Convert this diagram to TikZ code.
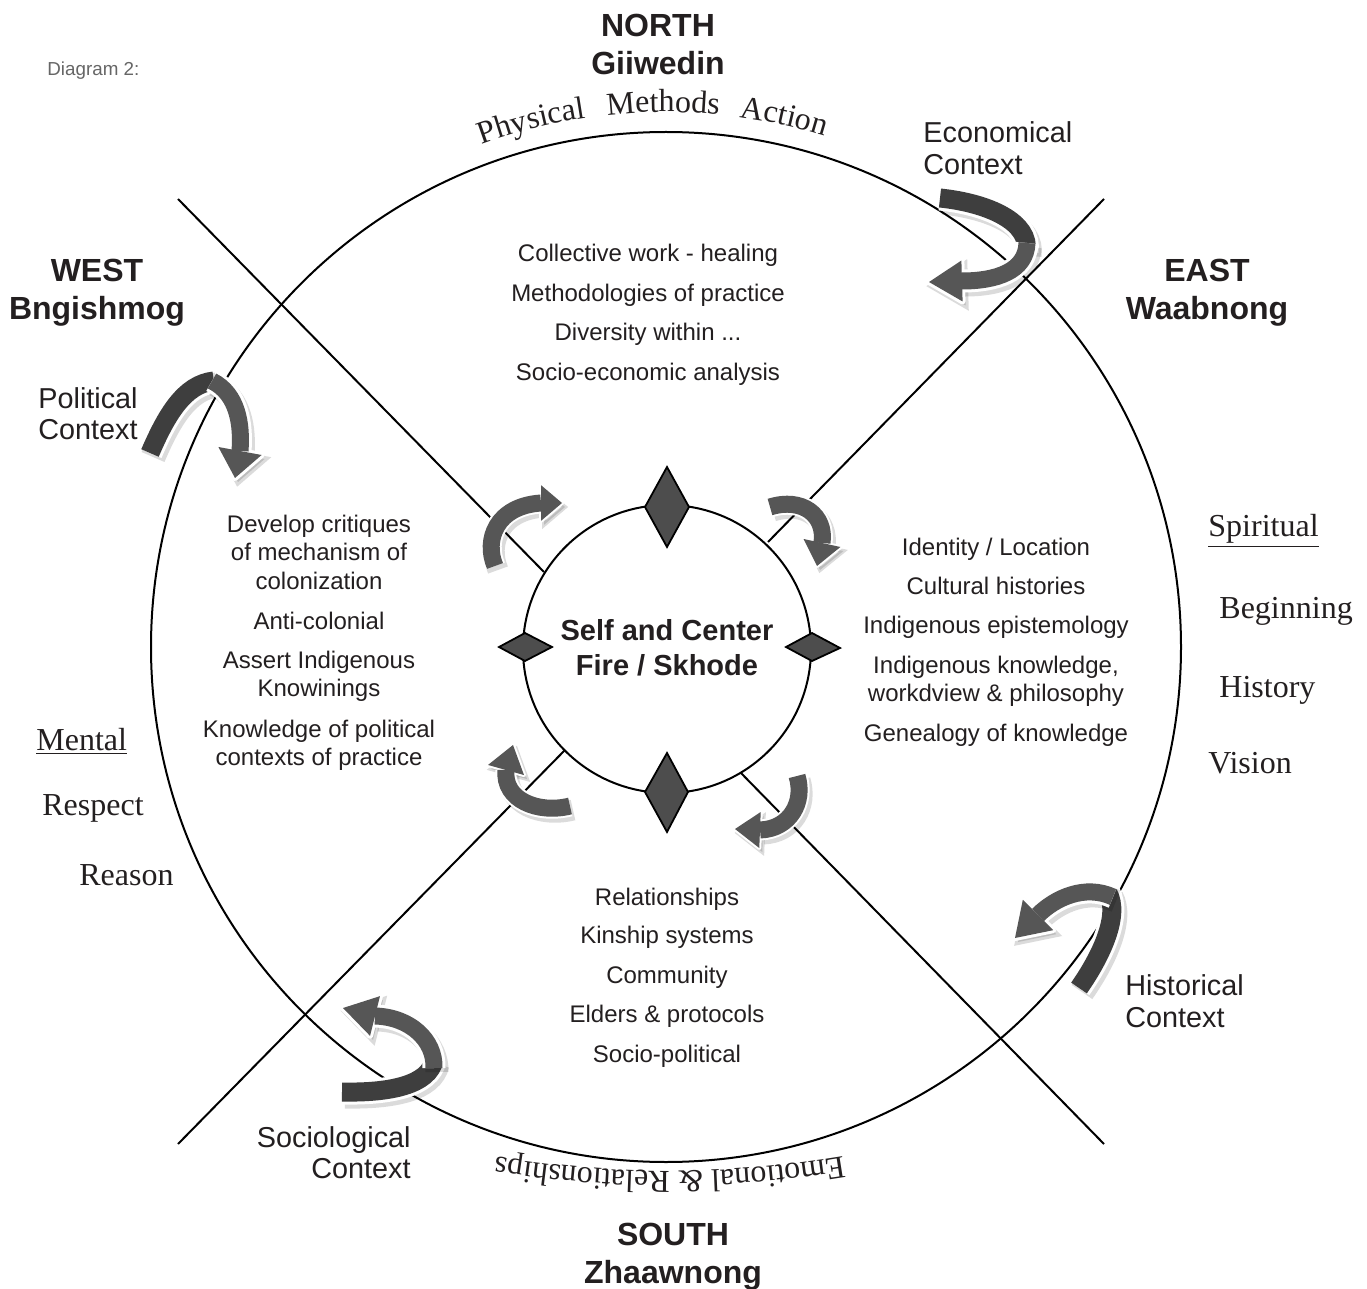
\documentclass[tikz,border=0pt]{standalone}
\usepackage{fontspec}
\setmainfont{Liberation Sans}
\newfontfamily\serifRM{Liberation Serif}
\usetikzlibrary{calc}
\definecolor{arrback}{HTML}{3E3E3E}
\definecolor{arrfront}{HTML}{565656}
\definecolor{diafill}{HTML}{4D4D4D}
\definecolor{txt}{HTML}{231F20}
\definecolor{capgray}{HTML}{666666}
\newcommand\arcfont{\serifRM\fontsize{16}{16}\selectfont}
% back part of a ribbon arrow: colour, width, outline width, path
\newcommand\backpart[4]{%
  \draw[shadowpen, line width=#3] #4;
  \draw[white, line width=#3] #4;
  \draw[#1, line width=#2] #4;}
% front part with head: colour, width, outline width, head outline, path, base, tip, factor
\newcommand\frontpart[8]{%
  \draw[shadowpen, line width=#3] #5;
  \filldraw[shadowfill, line width=#4] (#7) -- ($(#6)!#8!90:(#7)$) -- ($(#6)!#8!-90:(#7)$) -- cycle;
  \draw[white, line width=#3] #5;
  \filldraw[white, line width=#4, line join=round] (#7) -- ($(#6)!#8!90:(#7)$) -- ($(#6)!#8!-90:(#7)$) -- cycle;
  \draw[#1, line width=#2] #5;
  \fill[#1] (#7) -- ($(#6)!#8!90:(#7)$) -- ($(#6)!#8!-90:(#7)$) -- cycle;}
% text set letter by letter along a circle, read clockwise
% #1 centre, #2 radius (pt), #3 centre angle, #4 list of char/width (1/1000 em, 16pt font)
\newcommand\arctext[4]{%
  \gdef\arcsum{0}%
  \foreach \c/\w in {#4} {\pgfmathsetmacro\arctmp{\arcsum+\w}\xdef\arcsum{\arctmp}}%
  \pgfmathsetmacro\arctmp{#3 + 0.5*(\arcsum*0.016/#2)*57.29578}\xdef\arccur{\arctmp}%
  \foreach \c/\w in {#4} {%
    \pgfmathsetmacro\arcmid{\arccur - 0.5*(\w*0.016/#2)*57.29578}%
    \node[inner sep=0pt, anchor=base, rotate=\arcmid-90, text=txt, font=\arcfont] at ($(#1)+(\arcmid:#2pt)$) {\c};
    \pgfmathsetmacro\arctmp{\arccur - (\w*0.016/#2)*57.29578}\xdef\arccur{\arctmp}}%
}
\begin{document}
\begin{tikzpicture}[x=0.5pt,y=-0.5pt,
 body/.style={font=\fontsize{12}{14}\selectfont, text=txt, inner sep=0pt, anchor=base},
 heading/.style={font=\bfseries\fontsize{16}{19}\selectfont, text=txt, inner sep=0pt, anchor=base},
 ctx/.style={font=\fontsize{14.4}{16}\selectfont, text=txt, inner sep=0pt},
 srf/.style={font=\serifRM\fontsize{16}{18}\selectfont, text=txt, inner sep=0pt, anchor=base west},
 ringline/.style={line width=1pt, draw=black},
 dia/.style={draw=black, line width=0.9pt, fill=diafill, line join=miter},
 shadowpen/.style={transform canvas={shift={(1.5pt,-2pt)}}, draw=black, opacity=.14},
 shadowfill/.style={transform canvas={shift={(1.5pt,-2pt)}}, fill=black, draw=black, opacity=.14},
]
\useasboundingbox (0,0) rectangle (1367,1289);
\fill[white] (0,0) rectangle (1367,1289);

% outer wheel
\coordinate (wc) at (666,647);
\node[circle, ringline, minimum size=515pt, inner sep=0pt] (wheel) at (wc) {};

% the four quarter lines
\coordinate (nwEnd) at (178,199);  \coordinate (nwIn) at (544,572);
\coordinate (neEnd) at (1104,199); \coordinate (neIn) at (768,542);
\coordinate (seEnd) at (1104,1144);\coordinate (seIn) at (740,772);
\coordinate (swEnd) at (178,1144); \coordinate (swIn) at (565,750);
\draw[ringline] (nwEnd) -- (nwIn);
\draw[ringline] (neEnd) -- (neIn);
\draw[ringline] (seEnd) -- (seIn);
\draw[ringline] (swEnd) -- (swIn);

% inner circle
\node[circle, ringline, fill=white, minimum size=144pt, inner sep=0pt] (fire) at (667,649) {};

% diamonds
\draw[dia] (667,467) -- (689,507) -- (667,547) -- (645,507) -- cycle;
\draw[dia] (667,753) -- (688,792) -- (667,832) -- (645,792) -- cycle;
\draw[dia] (499,647) -- (525,633) -- (552,647) -- (525,661) -- cycle;
\draw[dia] (786,647) -- (812,633) -- (840,648) -- (812,661) -- cycle;

% small arrows around the centre
\frontpart{arrfront}{8.5pt}{10.5pt}{2pt}{(495,566) .. controls (484,540) and (496,506) .. (541,503)}{541,503}{562,503}{0.85}
\frontpart{arrfront}{8.5pt}{10.5pt}{2pt}{(770,507) .. controls (802,497) and (826,515) .. (822,543)}{822,543}{817,566}{0.8}
\frontpart{arrfront}{8.5pt}{10.5pt}{2pt}{(797,776) .. controls (805,802) and (790,829) .. (760,830)}{760,830}{735,829}{0.72}
\frontpart{arrfront}{8.5pt}{10.5pt}{2pt}{(570,806) .. controls (538,814) and (503,800) .. (506,770)}{506,770}{513,745}{0.72}

% big context arrows
% Economical
\backpart{arrback}{9.5pt}{12.5pt}{(940,198) .. controls (988,203) and (1031,222) .. (1026,252)}
\frontpart{arrfront}{8.5pt}{11.5pt}{3pt}{(1027,243) .. controls (1026,272) and (995,281) .. (962,281)}{962,281}{929,282}{0.62}
% Political
\backpart{arrback}{9.5pt}{12.5pt}{(150,453) .. controls (166,416) and (184,384) .. (214,381)}
\frontpart{arrfront}{8.5pt}{11.5pt}{3pt}{(212,381) .. controls (238,394) and (242,425) .. (240,451)}{240,451}{235,478}{0.8}
% Historical
\backpart{arrback}{9.5pt}{12.5pt}{(1079,988) .. controls (1102,955) and (1120,915) .. (1108,893)}
\frontpart{arrfront}{8.5pt}{11.5pt}{3pt}{(1113,897) .. controls (1085,884) and (1055,898) .. (1038,915)}{1038,915}{1015,938}{0.66}
% Sociological
\backpart{arrback}{9.5pt}{12.5pt}{(342,1092) .. controls (390,1093) and (429,1085) .. (434,1060)}
\frontpart{arrfront}{8.5pt}{11.5pt}{3pt}{(434,1068) .. controls (435,1040) and (410,1017) .. (375,1016)}{375,1016}{343,1008}{0.62}

% texts along the wheel
\arctext{wc}{267.5}{104.35}{P/556,h/500,y/500,s/389,i/278,c/444,a/444,l/278}
\arctext{wc}{267.5}{90.3}{M/889,e/444,t/278,h/500,o/500,d/500,s/389}
\arctext{wc}{267.5}{77.4}{A/722,c/444,t/278,i/278,o/500,n/500}
\coordinate (bc) at (670,120);
\arctext{bc}{525.5}{-90}{E/611,m/778,o/500,t/278,i/278,o/500,n/500,a/444,l/278,{}/250,\&/778,{}/250,R/667,e/444,l/278,a/444,t/278,i/278,o/500,n/500,s/389,h/500,i/278,p/500,s/389}

% caption
\node[inner sep=0pt, anchor=base west, text=capgray, font=\fontsize{9.4}{11}\selectfont] (cap) at (47,76) {Diagram 2:};

% directions
\node[heading] (north1) at (658,37) {NORTH};
\node[heading] (north2) at (658,75) {Giiwedin};
\node[heading] (west1) at (97,282) {WEST};
\node[heading] (west2) at (97,320) {Bngishmog};
\node[heading] (east1) at (1207,282) {EAST};
\node[heading] (east2) at (1207,320) {Waabnong};
\node[heading] (south1) at (673,1245) {SOUTH};
\node[heading] (south2) at (673,1283) {Zhaawnong};

% centre
\node[inner sep=0pt, anchor=base, text=txt, font=\bfseries\fontsize{14.5}{17}\selectfont] (self1) at (667,640) {Self and Center};
\node[inner sep=0pt, anchor=base, text=txt, font=\bfseries\fontsize{14.5}{17}\selectfont] (self2) at (667,675) {Fire / Skhode};

% north quadrant
\node[body] (n1) at (648,262) {Collective work - healing};
\node[body] (n2) at (648,302) {Methodologies of practice};
\node[body] (n3) at (648,341) {Diversity within ...};
\node[body] (n4) at (648,381) {Socio-economic analysis};
% west quadrant
\node[body] (w1) at (319,532) {Develop critiques};
\node[body] (w2) at (319,560) {of mechanism of};
\node[body] (w3) at (319,589) {colonization};
\node[body] (w4) at (319,629) {Anti-colonial};
\node[body] (w5) at (319,668) {Assert Indigenous};
\node[body] (w6) at (319,696) {Knowinings};
\node[body] (w7) at (319,737) {Knowledge of political};
\node[body] (w8) at (319,765) {contexts of practice};
% east quadrant
\node[body] (e1) at (996,555) {Identity / Location};
\node[body] (e2) at (996,594) {Cultural histories};
\node[body] (e3) at (996,633) {Indigenous epistemology};
\node[body] (e4) at (996,673) {Indigenous knowledge,};
\node[body] (e5) at (996,701) {workdview \& philosophy};
\node[body] (e6) at (996,741) {Genealogy of knowledge};
% south quadrant
\node[body] (s1) at (667,905) {Relationships};
\node[body] (s2) at (667,943) {Kinship systems};
\node[body] (s3) at (667,983) {Community};
\node[body] (s4) at (667,1022) {Elders \& protocols};
\node[body] (s5) at (667,1062) {Socio-political};

% context labels
\node[ctx, anchor=base west] (eco1) at (923,143) {Economical};
\node[ctx, anchor=base west] (eco2) at (923,175) {Context};
\node[ctx, anchor=base west] (pol1) at (38,409) {Political};
\node[ctx, anchor=base west] (pol2) at (38,440) {Context};
\node[ctx, anchor=base west] (his1) at (1125,995) {Historical};
\node[ctx, anchor=base west] (his2) at (1125,1027) {Context};
\node[ctx, anchor=base east] (soc1) at (411,1147) {Sociological};
\node[ctx, anchor=base east] (soc2) at (411,1178) {Context};

% serif side words
\node[srf] (sp) at (1208,537) {\underline{Spiritual}};
\node[srf] (be) at (1219,618) {Beginning};
\node[srf] (hi) at (1219,697) {History};
\node[srf] (vi) at (1208,773) {Vision};
\node[srf] (me) at (36,750) {\underline{Mental}};
\node[srf] (re) at (42,815) {Respect};
\node[srf] (ra) at (79,885) {Reason};
\end{tikzpicture}
\end{document}
